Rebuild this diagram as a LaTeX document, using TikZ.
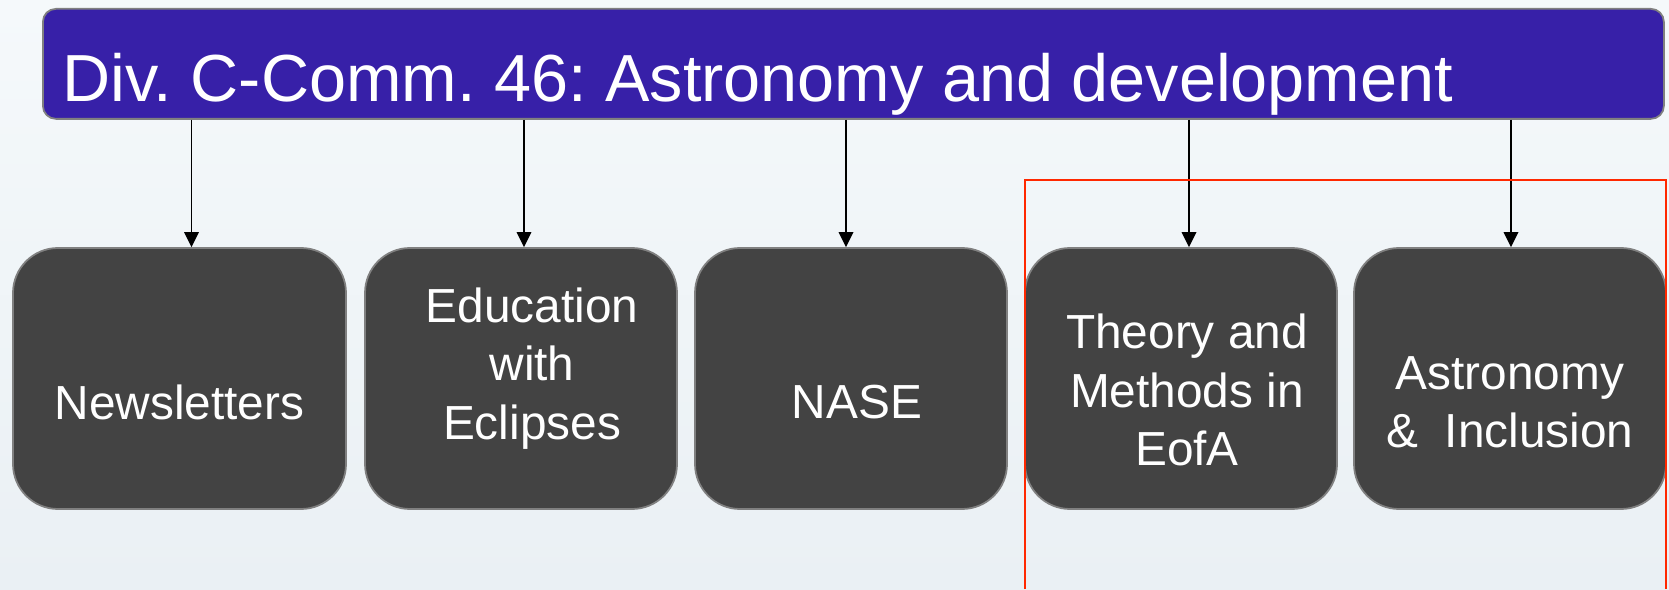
\documentclass[tikz,border=0pt]{standalone}
\usepackage{fontspec}
\setmainfont{Liberation Sans}
\usetikzlibrary{arrows.meta}
\frenchspacing

\definecolor{commblue}{RGB}{55,32,168}
\definecolor{cellgray}{RGB}{67,67,67}
\definecolor{framered}{RGB}{255,40,0}
\definecolor{bgtop}{RGB}{245,249,251}
\definecolor{bgbottom}{RGB}{234,240,244}

\begin{document}
\begin{tikzpicture}[
    head/.style={draw=gray, line width=0.5pt, fill=commblue, rounded corners=1.3mm,
        minimum width=16.21cm, minimum height=1.1cm, inner sep=0pt, anchor=north west},
    cell/.style={draw=gray, line width=0.5pt, fill=cellgray, rounded corners=4.5mm,
        minimum width=3.12cm, minimum height=2.61cm, inner sep=0pt},
    celltext/.style={text=white, align=center, font=\fontsize{13.6}{16.6}\selectfont},
    link/.style={-{Triangle[length=1.5mm,width=1.45mm]}, line width=0.5pt}
]
    % background
    \shade[top color=bgtop, bottom color=bgbottom] (0,0) rectangle (16.69,5.89);
    \useasboundingbox (0,0) rectangle (16.69,5.89);

    % Commission header
    \node[head] (title) at (0.42,5.81) {};
    \node[anchor=base west, inner sep=0pt, text=white, font=\fontsize{18.95}{22}\selectfont] (titletext) at (0.62,4.87)
        {Div. C-Comm. 46: Astronomy and development};

    % working groups
    \node[cell, minimum width=3.33cm] (b1) at (1.795,2.105) {};
    \node[cell] (b2) at (5.21,2.105) {};
    \node[cell] (b3) at (8.51,2.105) {};
    \node[cell] (b4) at (11.81,2.105) {};
    \node[cell] (b5) at (15.10,2.105) {};

    \node[celltext] (t1) at ([yshift=-2.35mm]b1.center) {Newsletters};
    \node[celltext] (t2) at ([xshift=1.1mm,yshift=1mm]b2.center) {Education\\with\\Eclipses};
    \node[celltext] (t3) at ([xshift=0.6mm,yshift=-2.35mm]b3.center) {NASE};
    \node[celltext] (t4) at ([xshift=0.6mm,yshift=-1.15mm]b4.center) {Theory and\\Methods in\\EofA};
    \node[celltext] (t5) at ([yshift=-2.35mm]b5.center) {Astronomy\\\&~~Inclusion};

    % links
    \foreach \b/\dx in {b1/1.2, b2/0.3, b3/-0.5, b4/0.8, b5/0.1}
        \draw[link] ([xshift=\dx mm]\b.north |- title.south) -- ([xshift=\dx mm]\b.north);

    % highlight frame
    \draw[framered, line width=0.6pt] (10.25,0) -- (10.25,4.09) -- (16.66,4.09) -- (16.66,0);
\end{tikzpicture}
\end{document}
